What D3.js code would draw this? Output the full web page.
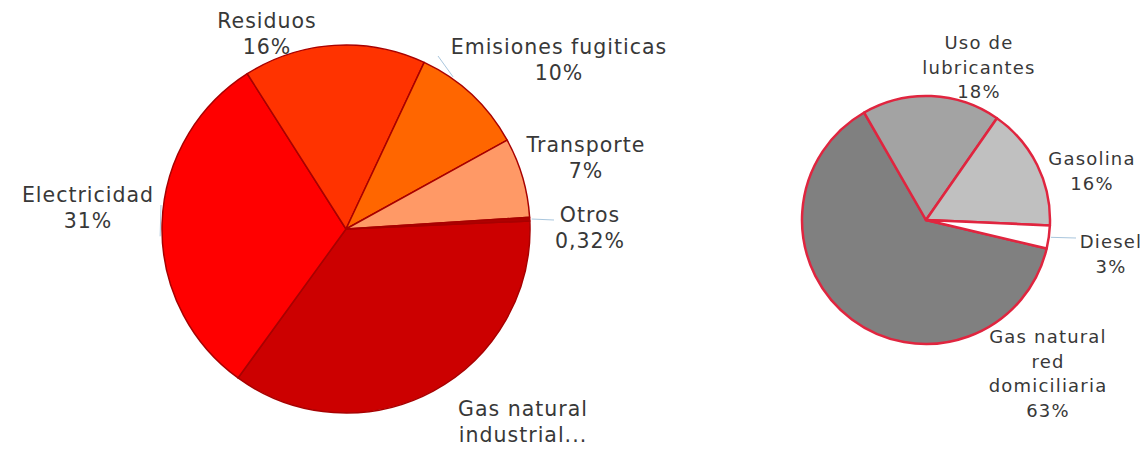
<!DOCTYPE html>
<html><head><meta charset="utf-8">
<script src="https://cdn.jsdelivr.net/npm/d3@7"></script>
<style>
html,body{margin:0;padding:0;background:#fff;}
text{font-family:"DejaVu Sans",sans-serif;fill:#383838;}
</style></head>
<body><svg id="c" width="1144" height="450"></svg>
<script>
// ---- data ----
const leftCategories = ["Gas natural industrial...", "Electricidad", "Residuos", "Emisiones fugiticas", "Transporte", "Otros"];
const leftValues = [35.68, 31, 16, 10, 7, 0.32];
const leftLabels = [["Gas natural","industrial..."], ["Electricidad","31%"], ["Residuos","16%"], ["Emisiones fugiticas","10%"], ["Transporte","7%"], ["Otros","0,32%"]];
const rightCategories = ["Gas natural red domiciliaria", "Uso de lubricantes", "Gasolina", "Diesel"];
const rightValues = [63, 18, 16, 3];
const rightLabels = [["Gas natural","red","domiciliaria","63%"], ["Uso de","lubricantes","18%"], ["Gasolina","16%"], ["Diesel","3%"]];

// ---- layout / style ----
const leftColors = ["#CC0000", "#FF0000", "#FF3300", "#FF6600", "#FF9966", "#B00000"];
const rightColors = ["#808080", "#A3A3A3", "#C0C0C0", "#FFFFFF"];
const svg = d3.select("#c");

function drawPie(cfg){
  const pie = d3.pie().sort(null).value(d=>d)
    .startAngle(cfg.start*Math.PI/180).endAngle(cfg.start*Math.PI/180+2*Math.PI);
  const arcs = pie(cfg.values);
  const arc = d3.arc().innerRadius(0).outerRadius(cfg.r);
  const g = svg.append("g").attr("transform",`translate(${cfg.cx},${cfg.cy})`);
  g.selectAll("path").data(arcs).join("path")
    .attr("d",arc).attr("fill",(d,i)=>cfg.colors[i])
    .attr("stroke",cfg.stroke).attr("stroke-width",cfg.sw).attr("stroke-linejoin","round");
  // leader lines
  cfg.leaders.forEach(L=>{
    if(!L) return;
    const a = arcs[L.i]; const ang = (a.startAngle+a.endAngle)/2 + (L.da||0)*Math.PI/180;
    const x1 = Math.sin(ang)*(cfg.r+2), y1 = -Math.cos(ang)*(cfg.r+2);
    g.append("line").attr("x1",x1).attr("y1",y1).attr("x2",L.x-cfg.cx).attr("y2",L.y-cfg.cy)
      .attr("stroke","#A9C6DD").attr("stroke-width",1);
  });
  // labels
  cfg.labels.forEach((lines,i)=>{
    const p = cfg.labelPos[i];
    const t = svg.append("text").attr("text-anchor","middle")
      .attr("font-size",cfg.fs).attr("letter-spacing",cfg.ls);
    lines.forEach((s,j)=>t.append("tspan").attr("x",p[0]).attr("y",p[1]+j*cfg.lh).text(s));
  });
}

drawPie({cx:346, cy:229, r:184, start:87.5, values:leftValues, colors:leftColors,
  stroke:"#A80000", sw:1.5, labels:leftLabels, fs:20.5, ls:1.0, lh:26,
  labelPos:[[523,416],[88,202],[267,28],[559,54],[586,152],[590,222]],
  leaders:[null,{i:1,x:161,y:205,da:-4},null,{i:3,x:438,y:56,da:-8},null,{i:5,x:554,y:220}]});

drawPie({cx:926, cy:220, r:124, start:103.3, values:rightValues, colors:rightColors,
  stroke:"#E0253F", sw:2.5, labels:rightLabels, fs:18, ls:1.2, lh:24.5,
  labelPos:[[1048,343],[979,49],[1092,165],[1111,248]],
  leaders:[null,null,null,{i:3,x:1076,y:238}]});
</script></body></html>
